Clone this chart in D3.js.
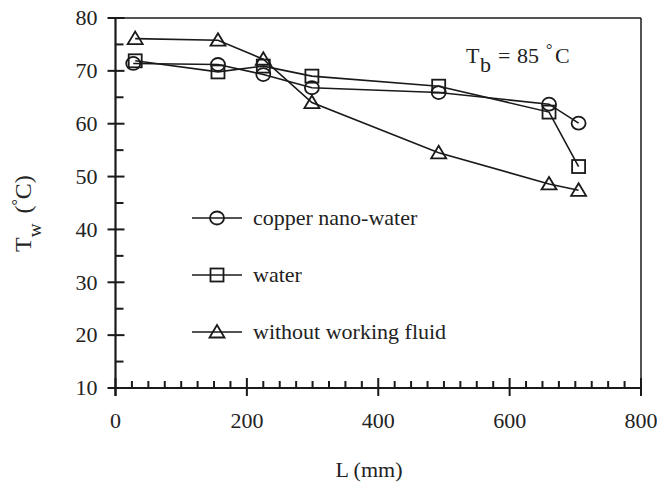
<!DOCTYPE html>
<html><head><meta charset="utf-8">
<script src="https://cdn.jsdelivr.net/npm/d3@7/dist/d3.min.js"></script>
<style>body{margin:0;background:#fff}svg{display:block}text{font-family:"Liberation Serif","Times New Roman",serif;fill:#222}</style>
</head><body><svg id="c" width="657" height="498"></svg>
<script>
const lengthsCopper = [27, 156, 225, 299, 492, 660, 705];
const copperNanoWater = [71.4, 71.2, 69.3, 66.8, 65.9, 63.7, 60.1];
const lengthsWater = [30, 156, 225, 299, 492, 660, 705];
const water = [71.9, 69.8, 70.9, 69.0, 67.1, 62.2, 51.9];
const lengthsDry = [30, 156, 225, 299, 492, 660, 705];
const withoutFluid = [76.1, 75.8, 72.2, 64.0, 54.5, 48.6, 47.4];
const seriesNames = ["copper nano-water", "water", "without working fluid"];
const xTicks = [0, 200, 400, 600, 800];
const yTicks = [10, 20, 30, 40, 50, 60, 70, 80];

const svg = d3.select("#c");
const L = 115.5, R = 641, T = 18, B = 388;
const x = d3.scaleLinear().domain([0, 800]).range([L, R]);
const y = d3.scaleLinear().domain([10, 80]).range([B, T]);
const ink = "#1a1a1a";
const FS = 22;

// frame top/right
svg.append("line").attr("x1", L).attr("x2", R).attr("y1", T).attr("y2", T).attr("stroke", ink).attr("stroke-width", 1.5);
svg.append("line").attr("x1", R).attr("x2", R).attr("y1", T).attr("y2", B).attr("stroke", ink).attr("stroke-width", 1.5);

// y axis
const gy = svg.append("g").attr("transform", `translate(${L},0)`);
gy.append("line").attr("x1", 0).attr("x2", 0).attr("y1", T - 1).attr("y2", B + 8).attr("stroke", ink).attr("stroke-width", 2.2);
d3.range(15, 80, 10).forEach(v => gy.append("line").attr("x1", 0).attr("x2", 8).attr("y1", y(v)).attr("y2", y(v)).attr("stroke", ink).attr("stroke-width", 2));
yTicks.forEach(v => {
  gy.append("line").attr("x1", -8).attr("x2", 9).attr("y1", y(v)).attr("y2", y(v)).attr("stroke", ink).attr("stroke-width", 2);
  gy.append("text").attr("x", -18).attr("y", y(v)).attr("dy", "0.33em").attr("text-anchor", "end").attr("font-size", FS).text(v);
});

// x axis
const gx = svg.append("g").attr("transform", `translate(0,${B})`);
gx.append("line").attr("x1", L - 1).attr("x2", R + 1).attr("y1", 0).attr("y2", 0).attr("stroke", ink).attr("stroke-width", 2.2);
d3.range(25, 800, 25).filter(v => v % 200 !== 0).forEach(v => gx.append("line").attr("x1", x(v)).attr("x2", x(v)).attr("y1", 0).attr("y2", -7).attr("stroke", ink).attr("stroke-width", 2));
xTicks.forEach(v => {
  gx.append("line").attr("x1", x(v)).attr("x2", x(v)).attr("y1", 8).attr("y2", -10).attr("stroke", ink).attr("stroke-width", 2);
  gx.append("text").attr("x", x(v)).attr("y", 40).attr("text-anchor", "middle").attr("font-size", FS).text(v);
});

// axis titles
svg.append("text").attr("x", 369).attr("y", 477).attr("text-anchor", "middle").attr("font-size", FS).text("L (mm)");
const yl = svg.append("text").attr("transform", "translate(31,252) rotate(-90)").attr("text-anchor", "start")
  .attr("font-size", 24).style("fill", "#222").style("opacity", 0.99);
yl.append("tspan").text("T");
yl.append("tspan").attr("dy", 10).attr("font-size", 19).text("w");
yl.append("tspan").attr("dy", -10).attr("dx", 10).text("(");
yl.append("tspan").attr("dy", -8).attr("font-size", 16).text("°");
yl.append("tspan").attr("dy", 8).text("C)");

// annotation
const an = svg.append("text").attr("y", 63).attr("font-size", FS);
an.append("tspan").attr("x", 466).text("T");
an.append("tspan").attr("x", 480).attr("dy", 9).text("b");
an.append("tspan").attr("x", 498).attr("dy", -9).text("=");
an.append("tspan").attr("x", 517).text("85");
an.append("tspan").attr("x", 546).attr("dy", -8).attr("font-size", 16).text("°");
an.append("tspan").attr("x", 555).attr("dy", 8).text("C");

const line = d3.line().x(d => x(d[0])).y(d => y(d[1]));
const data = [
  {name: seriesNames[0], pts: d3.zip(lengthsCopper, copperNanoWater), shape: "circle"},
  {name: seriesNames[1], pts: d3.zip(lengthsWater, water), shape: "square"},
  {name: seriesNames[2], pts: d3.zip(lengthsDry, withoutFluid), shape: "triangle"}
];
function marker(g, shape, cx, cy) {
  if (shape === "circle") g.append("ellipse").attr("cx", cx).attr("cy", cy).attr("rx", 7).attr("ry", 6.5);
  else if (shape === "square") g.append("rect").attr("x", cx - 6.5).attr("y", cy - 6.5).attr("width", 13).attr("height", 13);
  else g.append("path").attr("d", `M${cx},${cy - 7}L${cx + 7.5},${cy + 5.5}L${cx - 7.5},${cy + 5.5}Z`);
}
data.forEach(s => {
  svg.append("path").attr("d", line(s.pts)).attr("fill", "none").attr("stroke", ink).attr("stroke-width", 1.6);
});
data.forEach(s => {
  const g = svg.append("g").attr("fill", "none").attr("stroke", ink).attr("stroke-width", 1.8);
  s.pts.forEach(p => marker(g, s.shape, x(p[0]), y(p[1])));
});

// legend
const legY = [218, 275, 332];
data.forEach((s, i) => {
  const g = svg.append("g").attr("fill", "none").attr("stroke", ink).attr("stroke-width", 1.8);
  g.append("line").attr("x1", 192).attr("x2", 242).attr("y1", legY[i]).attr("y2", legY[i]).attr("stroke-width", 1.6);
  marker(g, s.shape, 217, legY[i]);
  svg.append("text").attr("x", 253).attr("y", legY[i]).attr("dy", "0.3em").attr("font-size", FS).text(s.name);
});
</script></body></html>
